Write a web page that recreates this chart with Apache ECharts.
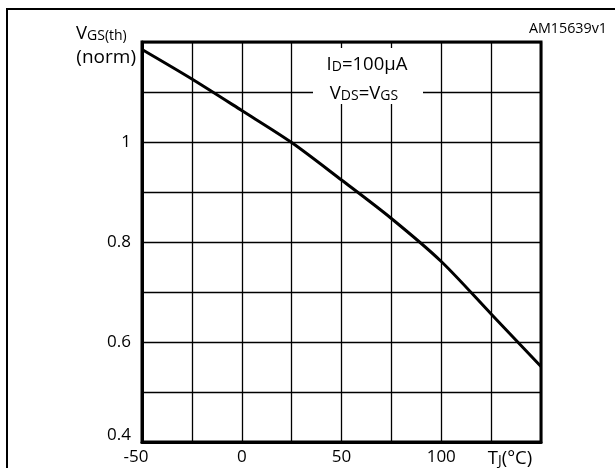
<!DOCTYPE html>
<html>
<head>
<meta charset="utf-8">
<script src="https://cdn.jsdelivr.net/npm/echarts@6/dist/echarts.min.js"></script>
<style>
  html, body { margin: 0; padding: 0; background: #fff; }
  #chart { width: 615px; height: 468px; }
</style>
</head>
<body>
<div id="chart"></div>
<script>
// junction temperature (°C) and normalised threshold voltage
let temps  = [-50, -25, 0, 25, 50, 75, 100, 125, 150];
let vgsth  = [1.185, 1.126, 1.063, 0.999, 0.924, 0.847, 0.761, 0.656, 0.551];

let xLabels = [-50, 0, 50, 100];
let yLabels = [0.4, 0.6, 0.8, 1];

let font = '"Open Sans", "Noto Sans", sans-serif';

let chart = echarts.init(document.getElementById('chart'));

let series = [];
let points = [];
for(let i = 0; i < temps.length; i++){
    points.push([temps[i], vgsth[i]]);
}
series.push({
    type: 'line',
    data: points,
    showSymbol: false,
    symbol: 'none',
    smooth: 0.3,
    lineStyle: { color: '#000', width: 3 },
    z: 5
});

let axisFont = 17;
let big      = 18.5;
let small    = 14;

let subRich = {
    a: { fontFamily: font, fontSize: big,   color: '#000', verticalAlign: 'bottom' },
    b: { fontFamily: font, fontSize: small, color: '#000', verticalAlign: 'bottom' }
};

let option = {
    backgroundColor: '#fff',
    animation: false,
    grid: {
        left: 142, right: 74, top: 42, bottom: 26,
        show: true, borderColor: '#000', borderWidth: 3
    },
    xAxis: {
        type: 'value',
        min: -50, max: 150, interval: 25,
        axisLine: { show: true, onZero: false, lineStyle: { color: '#000', width: 3 } },
        axisTick: { show: false },
        splitLine: { show: true, lineStyle: { color: '#000', width: 1.3 } },
        axisLabel: {
            margin: 7,
            color: '#000', fontFamily: font, fontSize: axisFont,
            formatter: function(v){
                if(xLabels.indexOf(v) < 0) return '';
                if(v === -50) return '{lo|' + v + '}';
                return String(v);
            },
            rich: { lo: { fontFamily: font, fontSize: axisFont, color: '#000', padding: [0, 12, 0, 0] } }
        }
    },
    yAxis: {
        type: 'value',
        min: 0.4, max: 1.2, interval: 0.1,
        axisLine: { show: true, onZero: false, lineStyle: { color: '#000', width: 3 } },
        axisTick: { show: false },
        splitLine: { show: true, lineStyle: { color: '#000', width: 1.3 } },
        axisLabel: {
            margin: 11,
            color: '#000', fontFamily: font, fontSize: axisFont,
            formatter: function(v){
                let r = Math.round(v * 10) / 10;
                if(yLabels.indexOf(r) < 0) return '';
                if(r === 0.4) return '{lo|0.4}';
                return String(r);
            },
            rich: { lo: { fontFamily: font, fontSize: axisFont, color: '#000', padding: [0, 0, 14, 0] } }
        }
    },
    series: series,
    graphic: [
        // outer frame, runs off the right and bottom edges
        { type: 'rect', shape: { x: 7, y: 9, width: 700, height: 600 },
          style: { fill: null, stroke: '#000', lineWidth: 2 }, z: 1 },
        // white panel behind the test condition
        { type: 'rect', shape: { x: 313, y: 48, width: 110, height: 56 },
          style: { fill: '#fff' }, z: 10 },
        { type: 'text', x: 367, y: 65, z: 11,
          style: { text: '{a|I}{b|D}{a|=100µA}', align: 'center', verticalAlign: 'middle', rich: subRich } },
        { type: 'text', x: 364, y: 94, z: 11,
          style: { text: '{a|V}{b|DS}{a|=V}{b|GS}', align: 'center', verticalAlign: 'middle', rich: subRich } },
        { type: 'text', x: 76, y: 34, z: 11,
          style: { text: '{a|V}{b|GS(th)}', align: 'left', verticalAlign: 'middle', rich: subRich } },
        { type: 'text', x: 136, y: 58, z: 11,
          style: { text: '(norm)', align: 'right', verticalAlign: 'middle',
                   fontFamily: font, fontSize: big + 0.5, fill: '#000' } },
        { type: 'text', x: 510, y: 459, z: 11,
          style: { text: '{a|T}{b|J}{a|(°C)}', align: 'center', verticalAlign: 'middle', rich: subRich } },
        { type: 'text', x: 607, y: 29, z: 11,
          style: { text: 'AM15639v1', align: 'right', verticalAlign: 'middle',
                   fontFamily: font, fontSize: 14.3, fill: '#000' } }
    ]
};

chart.setOption(option);
</script>
</body>
</html>
